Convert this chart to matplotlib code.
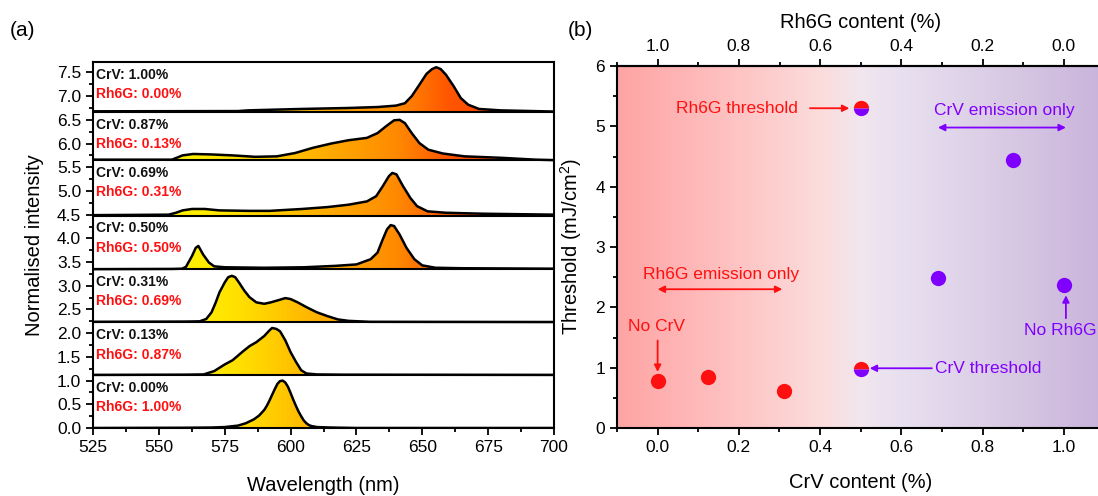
import numpy as np
import matplotlib
matplotlib.use('Agg')
import matplotlib.pyplot as plt
from matplotlib.colors import LinearSegmentedColormap
from matplotlib.ticker import MultipleLocator, FormatStrFormatter, FixedLocator

plt.rcParams['font.family'] = ['Liberation Sans', 'DejaVu Sans']
plt.rcParams['mathtext.fontset'] = 'custom'
plt.rcParams['mathtext.rm'] = 'Liberation Sans'
plt.rcParams['mathtext.it'] = 'Liberation Sans:italic'

# ---------------- data: panel (a) spectra (bottom to top) ----------------
wl_s1 = [525, 560, 570, 575, 580, 583, 586, 588, 590, 591, 592, 593, 594, 595, 596, 597, 598, 599, 600,
         601, 602, 603, 604, 605, 606, 607, 608, 610, 615, 625, 700]
int_s1 = [0.0, 0.005, 0.01, 0.02, 0.05, 0.1, 0.18, 0.26, 0.38, 0.47, 0.58, 0.7, 0.82, 0.93, 0.99, 1.0, 0.96,
          0.87, 0.74, 0.6, 0.47, 0.35, 0.25, 0.16, 0.1, 0.06, 0.04, 0.02, 0.01, 0.0, 0.0]

wl_s2 = [525, 560, 567, 571, 575, 578, 582, 584.5, 587, 590, 592, 593, 594.6, 596, 598, 600, 602, 604, 606,
         610, 620, 700]
int_s2 = [1.12, 1.125, 1.13, 1.2, 1.34, 1.43, 1.62, 1.73, 1.81, 1.94, 2.06, 2.11, 2.09, 2.04, 1.85, 1.6, 1.4,
          1.22, 1.15, 1.13, 1.125, 1.12]

wl_s3 = [525, 560, 565.5, 568, 570, 571.6, 573, 575, 576.3, 577.7, 579, 580.4, 582.4, 584.4, 587, 590, 592.5,
         595, 598, 600, 602.7, 606, 610, 614, 618, 622, 630, 700]
int_s3 = [2.24, 2.245, 2.25, 2.3, 2.44, 2.65, 2.86, 3.07, 3.18, 3.21, 3.18, 3.07, 2.9, 2.76, 2.65, 2.62, 2.65,
          2.69, 2.74, 2.72, 2.65, 2.55, 2.44, 2.36, 2.29, 2.26, 2.24, 2.235]

wl_s4 = [525, 555, 558.8, 560.3, 562.6, 564, 565, 566.8, 569, 571, 575, 590, 605, 617, 625, 630.4, 633, 635,
         636.6, 638, 639.3, 641.4, 644, 647, 650, 655, 665, 700]
int_s4 = [3.35, 3.355, 3.36, 3.4, 3.63, 3.8, 3.84, 3.66, 3.49, 3.41, 3.39, 3.38, 3.39, 3.42, 3.45, 3.56, 3.7,
          3.98, 4.19, 4.28, 4.26, 4.08, 3.8, 3.56, 3.43, 3.38, 3.37, 3.36]

wl_s5 = [525, 553.7, 556.5, 559, 562.6, 567.4, 573, 584, 592, 604.4, 614, 622, 629, 632.5, 635, 637.3, 638.6,
         640.2, 642.7, 645.5, 648, 652, 659, 673, 700]
int_s5 = [4.49, 4.5, 4.54, 4.59, 4.62, 4.62, 4.59, 4.58, 4.58, 4.62, 4.66, 4.71, 4.78, 4.89, 5.1, 5.31, 5.38,
          5.35, 5.1, 4.85, 4.68, 4.57, 4.54, 4.52, 4.5]

wl_s6 = [525, 555, 559, 563, 570, 578, 586.6, 594.8, 601.7, 608.5, 615.4, 622, 629, 633, 636.6, 639.3, 641.4,
         643.4, 646, 648.9, 652.3, 657.8, 666, 679.7, 693, 700]
int_s6 = [5.66, 5.66, 5.75, 5.78, 5.77, 5.75, 5.72, 5.73, 5.8, 5.91, 6.0, 6.07, 6.12, 6.22, 6.38, 6.49, 6.5,
          6.43, 6.22, 6.01, 5.87, 5.79, 5.73, 5.7, 5.66, 5.65]

wl_s7 = [525, 580, 583.9, 604.4, 622, 633, 640, 643.4, 646, 648.9, 651.6, 653.7, 655.3, 657, 659, 661.9,
         664.6, 667.4, 671.5, 679.7, 700]
int_s7 = [6.68, 6.685, 6.7, 6.73, 6.75, 6.77, 6.8, 6.85, 7.0, 7.24, 7.47, 7.57, 7.61, 7.57, 7.45, 7.21, 6.96,
          6.82, 6.73, 6.7, 6.675]

panel_base = [0.0, 1.12, 2.23, 3.35, 4.48, 5.65, 6.67]
panel_top = 7.72
crv_text = ['CrV: 0.00%', 'CrV: 0.13%', 'CrV: 0.31%', 'CrV: 0.50%', 'CrV: 0.69%', 'CrV: 0.87%', 'CrV: 1.00%']
rh6g_text = ['Rh6G: 1.00%', 'Rh6G: 0.87%', 'Rh6G: 0.69%', 'Rh6G: 0.50%', 'Rh6G: 0.31%', 'Rh6G: 0.13%',
             'Rh6G: 0.00%']

grad_wl = [525, 550, 565, 578, 590, 600, 615, 630, 640, 650, 660, 700]
grad_col = ['#FFF500', '#FFF200', '#FFEE00', '#FFE200', '#FFD200', '#FFC200', '#FFAA00', '#FF9800',
            '#FF8A00', '#FF7200', '#FF5600', '#FF3000']

# ---------------- data: panel (b) thresholds ----------------
crv_red = [0.0, 0.125, 0.31]
thr_red = [0.78, 0.85, 0.62]
crv_purple = [0.69, 0.875, 1.0]
thr_purple = [2.49, 4.45, 2.37]
crv_half = [0.5, 0.5]
thr_half = [5.3, 0.97]
rh6g_ticks = [0.0, 0.2, 0.4, 0.6, 0.8, 1.0]

bg_pos = [-0.1, 0.2, 0.4, 0.5, 0.6, 0.8, 1.1]
bg_col = ['#FFA4A4', '#FEC4C4', '#FCDCDC', '#F2E6EE', '#E8E0F0', '#DCCFE6', '#C9B3DB']

RED = '#FF1010'
PURPLE = '#8000FF'


def stops(pos, cols):
    lo, hi = pos[0], pos[-1]
    s = [min(1.0, max(0.0, round((p - lo) / (hi - lo), 6))) for p in pos]
    s[0], s[-1] = 0.0, 1.0
    return list(zip(s, cols))


fig = plt.figure(figsize=(10.98, 4.96), dpi=100)

# ================= panel (a) =================
ax1 = fig.add_axes([93 / 1098, 68 / 496, 461 / 1098, 366 / 496])
gcmap = LinearSegmentedColormap.from_list('g', stops(grad_wl, grad_col))
grad_img = gcmap(np.linspace(0, 1, 400))[None, :, :]

spectra = [(wl_s1, int_s1), (wl_s2, int_s2), (wl_s3, int_s3), (wl_s4, int_s4),
           (wl_s5, int_s5), (wl_s6, int_s6), (wl_s7, int_s7)]
tops = panel_base[1:] + [panel_top]
for i, (wl, it) in enumerate(spectra):
    base = panel_base[i]
    poly = ax1.fill_between(wl, base, it, facecolor='none', edgecolor='none')
    path = poly.get_paths()[0]
    im = ax1.imshow(grad_img, extent=[525, 700, base, max(it) + 0.05], aspect='auto',
                    origin='lower', zorder=1, interpolation='bilinear')
    im.set_clip_path(path, transform=ax1.transData)
    ax1.plot(wl, it, color='k', lw=1.8, zorder=3, solid_joinstyle='round')
    top = tops[i]
    ax1.text(526.3, top - 0.27, crv_text[i], color='#111111', fontsize=10, fontweight='bold',
             va='center', ha='left', zorder=5)
    ax1.text(526.3, top - 0.68, rh6g_text[i], color=RED, fontsize=10, fontweight='bold',
             va='center', ha='left', zorder=5)
for b in panel_base[1:]:
    ax1.axhline(b, color='k', lw=1.5, zorder=4)

ax1.set_xlim(525, 700)
ax1.set_ylim(0, panel_top)
ax1.xaxis.set_major_locator(MultipleLocator(25))
ax1.xaxis.set_minor_locator(MultipleLocator(12.5))
ax1.yaxis.set_major_locator(MultipleLocator(0.5))
ax1.yaxis.set_minor_locator(MultipleLocator(0.25))
ax1.yaxis.set_major_formatter(FormatStrFormatter('%.1f'))
ax1.tick_params(which='both', direction='out', width=1.3, labelsize=12.5)
ax1.tick_params(which='major', length=5)
ax1.tick_params(which='minor', length=3)
for s in ax1.spines.values():
    s.set_linewidth(1.5)
ax1.set_xlabel('Wavelength (nm)', fontsize=14.5, labelpad=15)
ax1.set_ylabel('Normalised intensity', fontsize=14.5, labelpad=9)
fig.text(10 / 1098, 1 - 30 / 496, '(a)', fontsize=15, va='center', ha='left')

# ================= panel (b) =================
ax2 = fig.add_axes([617 / 1098, 68 / 496, 487.5 / 1098, 362 / 496])
bcmap = LinearSegmentedColormap.from_list('b', stops(bg_pos, bg_col))
ax2.imshow(bcmap(np.linspace(0, 1, 500))[None, :, :], extent=[-0.1, 1.1, 0, 6], aspect='auto',
           origin='lower', zorder=0, interpolation='bilinear')

ax2.plot(crv_red, thr_red, 'o', color=RED, ms=11, mew=0, zorder=5, linestyle='none')
ax2.plot(crv_purple, thr_purple, 'o', color=PURPLE, ms=11, mew=0, zorder=5, linestyle='none')
ax2.plot(crv_half, thr_half, 'o', ms=11, mew=0, fillstyle='top', markerfacecolor=RED,
         markerfacecoloralt=PURPLE, zorder=5, linestyle='none')

ap = dict(arrowstyle='-|>', lw=1.3, mutation_scale=10, shrinkA=0, shrinkB=0)
ap2 = dict(arrowstyle='<|-|>', lw=1.3, mutation_scale=10, shrinkA=0, shrinkB=0)

ax2.annotate('', xy=(0.472, 5.3), xytext=(0.375, 5.3), arrowprops=dict(ap, color=RED), zorder=4)
ax2.text(0.345, 5.3, 'Rh6G threshold', color=RED, ha='right', va='center', fontsize=12.5)

ax2.text(0.853, 5.26, 'CrV emission only', color=PURPLE, ha='center', va='center', fontsize=12.5)
ax2.annotate('', xy=(1.005, 4.98), xytext=(0.69, 4.98), arrowprops=dict(ap2, color=PURPLE), zorder=4)

ax2.text(0.155, 2.54, 'Rh6G emission only', color=RED, ha='center', va='center', fontsize=12.5)
ax2.annotate('', xy=(0.307, 2.30), xytext=(0.0, 2.30), arrowprops=dict(ap2, color=RED), zorder=4)

ax2.text(-0.004, 1.68, 'No CrV', color=RED, ha='center', va='center', fontsize=12.5)
ax2.annotate('', xy=(0.0, 0.93), xytext=(0.0, 1.45), arrowprops=dict(ap, color=RED), zorder=4)

ax2.text(0.684, 0.99, 'CrV threshold', color=PURPLE, ha='left', va='center', fontsize=12.5)
ax2.annotate('', xy=(0.522, 0.99), xytext=(0.675, 0.99), arrowprops=dict(ap, color=PURPLE), zorder=4)

ax2.text(0.99, 1.61, 'No Rh6G', color=PURPLE, ha='center', va='center', fontsize=12.5)
ax2.annotate('', xy=(1.005, 2.2), xytext=(1.005, 1.82), arrowprops=dict(ap, color=PURPLE), zorder=4)

ax2.set_xlim(-0.1, 1.1)
ax2.set_ylim(0, 6)
ax2.xaxis.set_major_locator(FixedLocator([0.0, 0.2, 0.4, 0.6, 0.8, 1.0]))
ax2.xaxis.set_minor_locator(MultipleLocator(0.1))
ax2.xaxis.set_major_formatter(FormatStrFormatter('%.1f'))
ax2.yaxis.set_major_locator(MultipleLocator(1))
ax2.yaxis.set_minor_locator(MultipleLocator(0.5))
ax2.tick_params(which='both', direction='out', width=1.3, labelsize=12.5)
ax2.tick_params(which='major', length=5)
ax2.tick_params(which='minor', length=3)
for s in ax2.spines.values():
    s.set_linewidth(1.5)
ax2.set_xlabel('CrV content (%)', fontsize=14.5, labelpad=13)
ax2.set_ylabel('Threshold (mJ/cm$^2$)', fontsize=14.5, labelpad=8)

top = ax2.secondary_xaxis('top', functions=(lambda x: 1 - x, lambda x: 1 - x))
top.xaxis.set_major_locator(FixedLocator(rh6g_ticks))
top.xaxis.set_minor_locator(FixedLocator([1.1, 0.9, 0.7, 0.5, 0.3, 0.1]))
top.xaxis.set_major_formatter(FormatStrFormatter('%.1f'))
top.tick_params(which='both', direction='out', width=1.3, labelsize=12.5)
top.tick_params(which='major', length=5)
top.tick_params(which='minor', length=3)
top.spines['top'].set_linewidth(1.5)
top.set_xlabel('Rh6G content (%)', fontsize=14.5, labelpad=8)

fig.text(568 / 1098, 1 - 30 / 496, '(b)', fontsize=15, va='center', ha='left')

fig.savefig('out.png', dpi=100)
